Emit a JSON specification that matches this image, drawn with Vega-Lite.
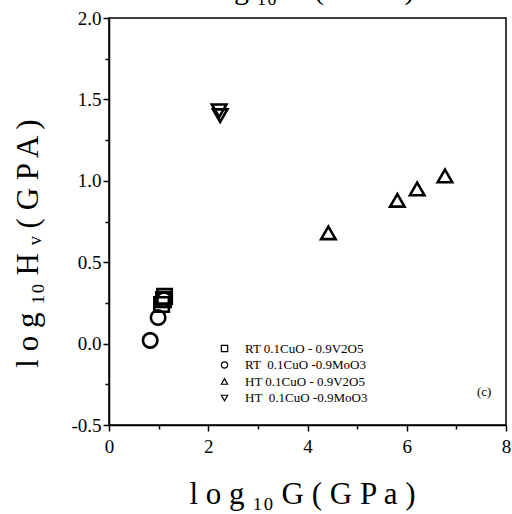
{
  "$schema": "https://vega.github.io/schema/vega-lite/v6.json",
  "width": 397,
  "height": 407,
  "autosize": {"type": "none"},
  "padding": {"left": 109, "top": 18, "right": 6, "bottom": 89},
  "background": "white",
  "config": {
    "view": {"stroke": "black", "strokeWidth": 1.5},
    "font": "Liberation Serif",
    "axis": {"labelFont": "Liberation Serif", "titleFont": "Liberation Serif"},
    "legend": {"labelFont": "Liberation Serif"}
  },
  "layer": [
    {
      "data": {"values": [
        {"G": 1.12, "H": 0.29, "series": "RT 0.1CuO - 0.9V2O5"},
        {"G": 1.10, "H": 0.27, "series": "RT 0.1CuO - 0.9V2O5"},
        {"G": 1.06, "H": 0.24, "series": "RT 0.1CuO - 0.9V2O5"},
        {"G": 0.83, "H": 0.02, "series": "RT\u00a0 0.1CuO -0.9MoO3"},
        {"G": 0.99, "H": 0.16, "series": "RT\u00a0 0.1CuO -0.9MoO3"},
        {"G": 1.11, "H": 0.27, "series": "RT\u00a0 0.1CuO -0.9MoO3"},
        {"G": 4.42, "H": 0.68, "series": "HT 0.1CuO - 0.9V2O5"},
        {"G": 5.81, "H": 0.88, "series": "HT 0.1CuO - 0.9V2O5"},
        {"G": 6.21, "H": 0.95, "series": "HT 0.1CuO - 0.9V2O5"},
        {"G": 6.77, "H": 1.03, "series": "HT 0.1CuO - 0.9V2O5"},
        {"G": 2.22, "H": 1.43, "series": "HT\u00a0 0.1CuO -0.9MoO3"},
        {"G": 2.24, "H": 1.40, "series": "HT\u00a0 0.1CuO -0.9MoO3"}
      ]},
      "mark": {"type": "point", "filled": false, "size": 210, "strokeWidth": 2.6, "color": "black", "opacity": 1},
      "encoding": {
        "x": {
          "field": "G", "type": "quantitative",
          "scale": {"domain": [0, 8], "nice": false, "zero": false},
          "axis": {
            "values": [0, 1, 2, 3, 4, 5, 6, 7, 8],
            "labelExpr": "datum.value % 2 === 0 ? datum.label : ''",
            "format": "d",
            "title": "l o g  ₁₀  G ( G P a )",
            "titleFontSize": 31, "titleFont": "Liberation Serif", "titleFontWeight": "normal", "titleColor": "black",
            "titleX": 193, "titleY": 78, "titleBaseline": "alphabetic", "titleAlign": "center",
            "labelFontSize": 19, "labelFont": "Liberation Serif", "labelColor": "black",
            "labelFlush": false, "labelOverlap": false, "labelPadding": 6,
            "domainColor": "black", "domainWidth": 1.5,
            "tickColor": "black", "tickWidth": 1.5,
            "tickSize": {"condition": {"test": "datum.value % 2 === 0", "value": 6}, "value": 4},
            "grid": false
          }
        },
        "y": {
          "field": "H", "type": "quantitative",
          "scale": {"domain": [-0.5, 2], "nice": false, "zero": false},
          "axis": {
            "values": [-0.5, -0.25, 0, 0.25, 0.5, 0.75, 1, 1.25, 1.5, 1.75, 2],
            "labelExpr": "abs(datum.value * 2 - round(datum.value * 2)) < 0.001 ? replace(datum.label, '\u2212', '-') : ''",
            "format": ".1f",
            "title": "l o g  ₁₀  H ᵥ ( G P A )",
            "titleFontSize": 31, "titleFont": "Liberation Serif", "titleFontWeight": "normal", "titleColor": "black",
            "titleX": -72, "titleY": 225, "titleBaseline": "alphabetic", "titleAlign": "center", "titleAngle": -90,
            "labelFontSize": 19, "labelFont": "Liberation Serif", "labelColor": "black",
            "labelFlush": false, "labelOverlap": false, "labelPadding": 2,
            "domainColor": "black", "domainWidth": 1.5,
            "tickColor": "black", "tickWidth": 1.5,
            "tickSize": {"condition": {"test": "abs(datum.value * 2 - round(datum.value * 2)) < 0.001", "value": 6}, "value": 4},
            "grid": false
          }
        },
        "shape": {
          "field": "series", "type": "nominal",
          "scale": {
            "domain": ["RT 0.1CuO - 0.9V2O5", "RT\u00a0 0.1CuO -0.9MoO3", "HT 0.1CuO - 0.9V2O5", "HT\u00a0 0.1CuO -0.9MoO3"],
            "range": ["square", "circle", "triangle-up", "triangle-down"]
          },
          "legend": {
            "title": null, "orient": "none", "legendX": 109, "legendY": 324,
            "labelFont": "Liberation Serif", "labelFontSize": 13, "labelColor": "black",
            "symbolSize": 40, "symbolStrokeWidth": 1.2, "symbolStrokeColor": "black", "symbolFillColor": "transparent",
            "rowPadding": 2.5, "labelOffset": 14, "padding": 0
          }
        }
      }
    },
    {
      "data": {"values": [
        {"G": 7.56, "H": -0.32, "label": "(c)", "size": 13},
        {"G": 3.95, "H": 2.115, "label": "l o g  ₁₀  H ( G P a )", "size": 30}
      ]},
      "mark": {"type": "text", "font": "Liberation Serif", "align": "center", "baseline": "alphabetic", "color": "black", "clip": false},
      "encoding": {
        "x": {"field": "G", "type": "quantitative", "scale": {"domain": [0, 8], "nice": false, "zero": false}},
        "y": {"field": "H", "type": "quantitative", "scale": {"domain": [-0.5, 2], "nice": false, "zero": false}},
        "text": {"field": "label"},
        "size": {"field": "size", "type": "quantitative", "scale": null, "legend": null}
      }
    }
  ]
}
